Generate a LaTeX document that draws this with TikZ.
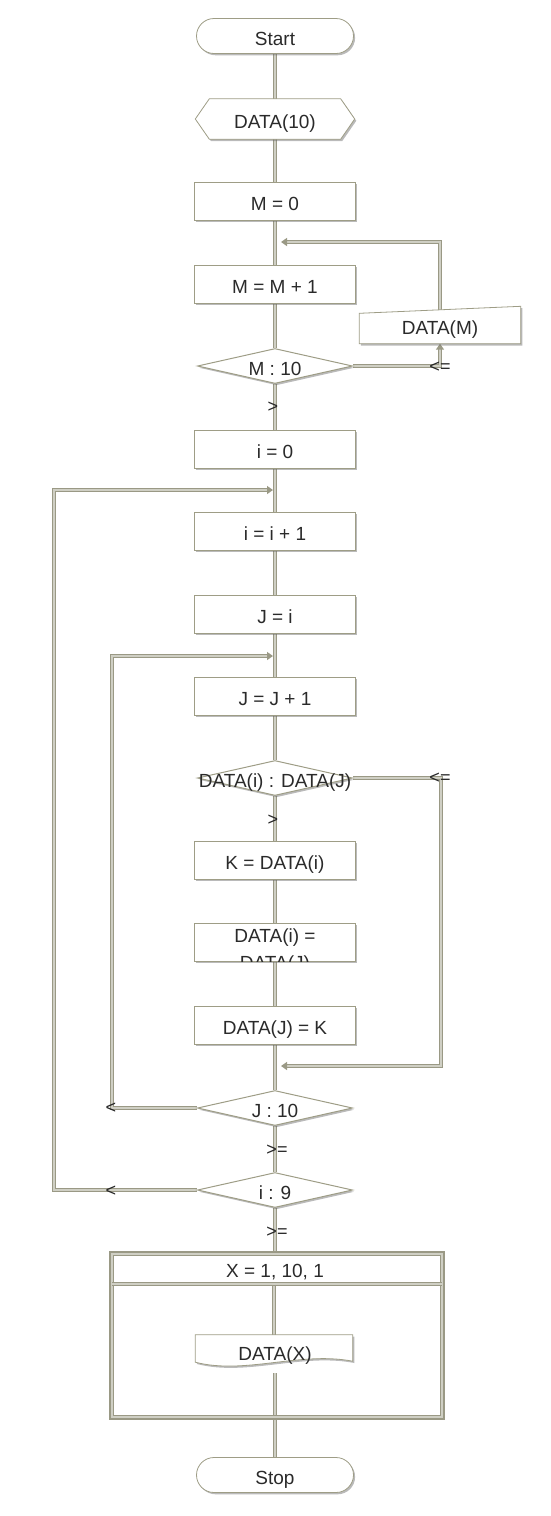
\documentclass[tikz,border=0pt]{standalone}
\usepackage{fontspec}
\setmainfont{Liberation Sans}
\usetikzlibrary{shapes.geometric,shapes.misc,shadows,arrows.meta,backgrounds}
\definecolor{bordc}{HTML}{9E9D86}
\definecolor{linec}{HTML}{9A9985}
\definecolor{linein}{HTML}{CFCFC4}
\definecolor{txtc}{HTML}{2A2A2A}
\tikzset{
  shp/.style={draw=bordc, fill=white, line width=0.8pt,
    drop shadow={shadow xshift=1.6pt,shadow yshift=-1.8pt,fill=black!60,opacity=0.45}},
  txtbase/.style={text=txtc, font=\fontsize{19}{27}\selectfont, inner sep=0pt},
  txt/.style={txtbase, text height=19pt, text depth=0pt},
  procbox/.style={shp, txt, rectangle, minimum width=161pt, minimum height=38pt},
  termbox/.style={shp, txt, rounded rectangle, minimum width=157pt, minimum height=35pt},
  decbox/.style={shp, diamond, minimum width=155pt, minimum height=35pt, inner sep=0pt, line width=1pt},
  ghost/.style={draw=none, fill=none, inner sep=0pt},
  flow/.style={draw=linec, line width=1.7pt, double=linein, double distance=1.5pt},
  flowarr/.style={flow, -{Triangle[length=6pt,width=8pt]}},
  cond/.style={text=black!85, font=\fontsize{18}{20}\selectfont, inner sep=0pt},
}
\begin{document}
\begin{tikzpicture}[x=1pt,y=-1pt]
\useasboundingbox (0,0) rectangle (550,1516);

% main column
\node[termbox] (start) at (275,36) {Start};
\node[ghost, minimum width=159pt, minimum height=40pt] (data10) at (275,119) {};
\path[shp] (data10.west) -- ([xshift=14pt]data10.north west) -- ([xshift=-14pt]data10.north east)
  -- (data10.east) -- ([xshift=-14pt]data10.south east) -- ([xshift=14pt]data10.south west) -- cycle;
\node[txt] (data10t) at (data10) {DATA(10)};
\node[procbox] (m0) at (275,201) {M = 0};
\node[procbox] (mm1) at (275,284) {M = M + 1};
\node[decbox] (m10) at (275,366) {};
\node[txt] (m10t) at (m10) {M : 10};

% DATA(M) manual input
\node[ghost, minimum width=161pt, minimum height=37pt] (dm) at (440,325) {};
\path[shp] (dm.south west) -- ([yshift=-7pt]dm.north west) -- (dm.north east) -- (dm.south east) -- cycle;
\node[txt] (dmt) at (dm.center) {DATA(M)};

\node[procbox] (i0) at (275,449) {i = 0};
\node[procbox] (ii1) at (275,531) {i = i + 1};
\node[procbox] (ji) at (275,614) {J = i};
\node[procbox] (jj1) at (275,696) {J = J + 1};
\node[decbox] (cmp) at (275,778) {};
\node[txt] (cmpt) at (cmp) {DATA(i) : DATA(J)};
\node[procbox] (kd) at (275,860) {K = DATA(i)};
\node[procbox] (swap) at (275,942) {};
\begin{scope}
  \clip (swap.south west) rectangle (swap.north east);
  \node[txtbase, align=center, anchor=north] (swapt) at (275,929) {DATA(i) =\\DATA(J)};
\end{scope}
\node[procbox] (djk) at (275,1025) {DATA(J) = K};
\node[decbox] (j10) at (275,1108) {};
\node[txt] (j10t) at (j10) {J : 10};
\node[decbox] (i9) at (275,1190) {};
\node[txt] (i9t) at (i9) {i : 9};

% loop box
\node[ghost, minimum width=330pt, minimum height=163pt] (loopbox) at (277,1335.5) {};
\coordinate (hdl) at (112,1284);
\coordinate (hdr) at (442,1284);
\draw[flow] (loopbox.north west) rectangle (loopbox.south east);
\draw[flow] (hdl) -- (hdr);
\node[txt] (xhdr) at (275,1268) {X = 1, 10, 1};

% DATA(X) document
\node[ghost, minimum width=157pt, minimum height=24pt] (datax) at (274,1347) {};
\path[shp] (datax.north west) -- (datax.north east) -- ([yshift=-2pt]datax.south east)
  .. controls (300,1351) and (245,1375) .. ([yshift=-3pt]datax.south west) -- cycle;
\node[txt] (dataxt) at (275,1351) {DATA(X)};
\coordinate (dxb) at (275,1373);

\node[termbox] (stop) at (275,1475) {Stop};

% loop coordinates
\coordinate (mtarget) at (281,242);
\coordinate (cbot) at (441,1066);
\coordinate (ctarget) at (281,1066);
\coordinate (jlt) at (112,656);
\coordinate (jtarget) at (273,656);
\coordinate (ilt) at (54,490);
\coordinate (itarget) at (273,490);

\begin{scope}[on background layer]
  \draw[flow] (start.south) -- (data10.north);
  \draw[flow] (data10.south) -- (m0.north);
  \draw[flow] (m0.south) -- (mm1.north);
  \draw[flow] (mm1.south) -- (m10.north);
  \draw[flow] (m10.south) -- (i0.north);
  \draw[flow] (i0.south) -- (ii1.north);
  \draw[flow] (ii1.south) -- (ji.north);
  \draw[flow] (ji.south) -- (jj1.north);
  \draw[flow] (jj1.south) -- (cmp.north);
  \draw[flow] (cmp.south) -- (kd.north);
  \draw[flow] (kd.south) -- (swap.north);
  \draw[flow] (swap.south) -- (djk.north);
  \draw[flow] (djk.south) -- (j10.north);
  \draw[flow] (j10.south) -- (i9.north);
  \draw[flow] (i9.south) -- (i9.south |- loopbox.north);
  \draw[flow] (datax.north |- hdl) -- (datax.north);
  \draw[flow] (dxb) -- (stop.north);
  % loops
  \draw[flowarr] (m10.east) -| (dm.south);
  \draw[flowarr] (dm.center) |- (mtarget);
  \draw[flowarr] (cmp.east) -| (cbot) -- (ctarget);
  \draw[flowarr] (j10.west) -| (jlt) -- (jtarget);
  \draw[flowarr] (i9.west) -| (ilt) -- (itarget);
\end{scope}

% condition labels
\node[cond] (c1) at (273,407) {>};
\node[cond] (c2) at (440,367) {<=};
\node[cond] (c3) at (273,820) {>};
\node[cond] (c4) at (440,778) {<=};
\node[cond] (c5) at (111,1108) {<};
\node[cond] (c6) at (277,1150) {>=};
\node[cond] (c7) at (111,1191) {<};
\node[cond] (c8) at (277,1232) {>=};
\end{tikzpicture}
\end{document}
